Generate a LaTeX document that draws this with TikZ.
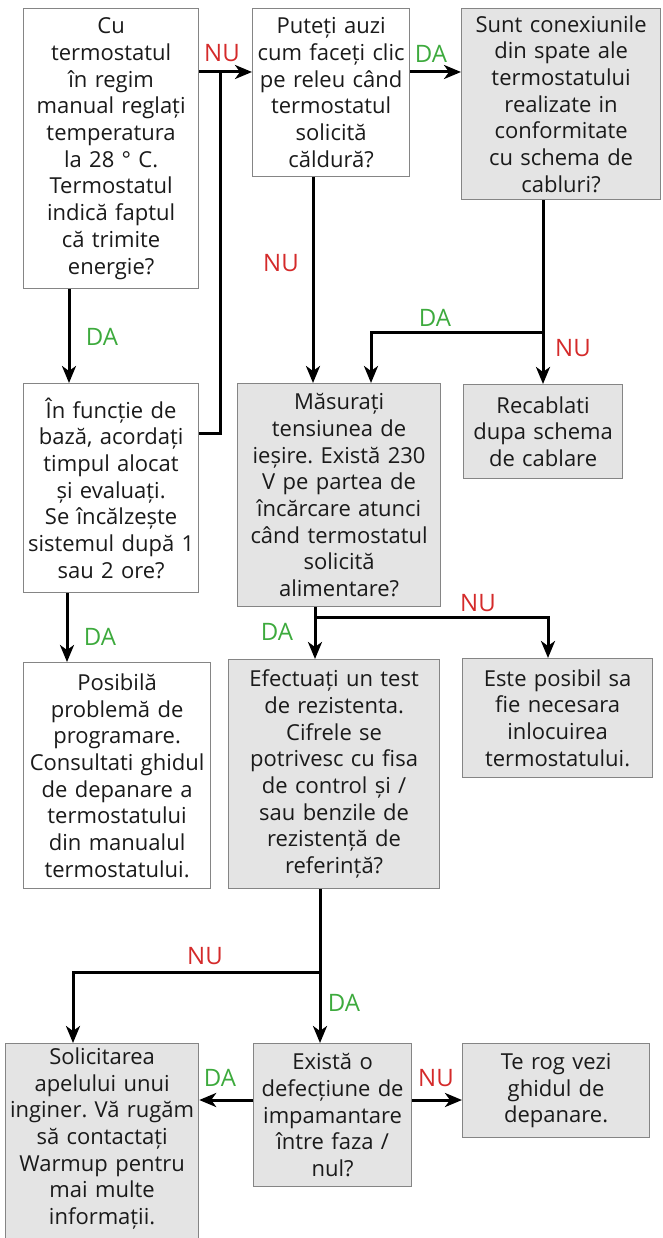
\documentclass[tikz,border=0pt]{standalone}
\usepackage{fontspec}
\setmainfont{Open Sans}
\usetikzlibrary{arrows.meta}
\definecolor{boxgray}{HTML}{E4E4E4}
\definecolor{edgegray}{HTML}{858585}
\definecolor{nured}{HTML}{D42A2A}
\definecolor{dagreen}{HTML}{3DAA3D}
\definecolor{txt}{HTML}{1A1A1A}
\frenchspacing
\begin{document}
\begin{tikzpicture}[x=1pt,y=-1pt,
  box/.style={draw=edgegray, line width=1.2pt, inner sep=0pt, align=center,
    text=txt, font=\fontsize{22}{26.7}\selectfont, anchor=north west},
  wbox/.style={box, fill=white},
  gbox/.style={box, fill=boxgray},
  sz/.style 2 args={minimum width=#1pt, text width=#1pt, minimum height=#2pt},
  conn/.style={line width=3pt, line join=miter},
  arr/.style={conn, -{Stealth[length=17pt,width=14pt,inset=5pt]}},
  nulab/.style={text=nured, font=\fontsize{24}{24}\selectfont, inner sep=0pt},
  dalab/.style={text=dagreen, font=\fontsize{24}{24}\selectfont, inner sep=0pt}]
\useasboundingbox (0,0) rectangle (662,1238);
\clip (0,0) rectangle (662,1238);

% boxes
\node[wbox, sz={175}{280}] (b1) at (23,8) {Cu\\termostatul\\în regim\\manual reglați\\temperatura\\la 28 ° C.\\Termostatul\\indică faptul\\că trimite\\energie?};
\node[wbox, sz={157}{168}] (b2) at (252,8) {Puteți auzi\\cum faceți clic\\pe releu când\\termostatul\\solicită\\căldură?};
\node[gbox, sz={199}{191}] (b3) at (461,8) {Sunt conexiunile\\din spate ale\\termostatului\\realizate in\\conformitate\\cu schema de\\cabluri?};
\node[wbox, sz={175}{209}] (b4) at (23,383) {În funcție de\\bază, acordați\\timpul alocat\\și evaluați.\\Se încălzește\\sistemul după 1\\sau 2 ore?};
\node[gbox, sz={203}{223}] (b5) at (237,383) {Măsurați\\tensiunea de\\ieșire. Există 230\\V pe partea de\\încărcare atunci\\când termostatul\\solicită\\alimentare?};
\node[gbox, sz={159}{94}] (b6) at (463,384) {Recablati\\dupa schema\\de cablare};
\node[wbox, sz={187}{226}] (b7) at (23,662) {Posibilă\\problemă de\\programare.\\Consultati ghidul\\de depanare a\\termostatului\\din manualul\\termostatului.};
\node[gbox, sz={211}{229}] (b8) at (228,659) {Efectuați un test\\de rezistenta.\\Cifrele se\\potrivesc cu fisa\\de control și /\\sau benzile de\\rezistență de\\referință?};
\node[gbox, sz={190}{119}] (b9) at (462,658) {Este posibil sa\\fie necesara\\inlocuirea\\termostatului.};
\node[gbox, sz={193}{250}] (b10) at (5,1043) {Solicitarea\\apelului unui\\inginer. Vă rugăm\\să contactați\\Warmup pentru\\mai multe\\informații.\par\vspace*{60pt}};
\node[gbox, sz={158}{143}] (b11) at (253,1043) {Există o\\defecțiune de\\impamantare\\între faza /\\nul?};
\node[gbox, sz={187}{94}] (b12) at (462,1043) {Te rog vezi\\ghidul de\\depanare.};

% junctions
\coordinate (j1) at (220,72);
\coordinate (j2) at (543,332);
\coordinate (j3) at (315,617);
\coordinate (j4) at (320,972);

% connectors
\draw[arr] ([yshift=-64pt]b1.north east) -- ([yshift=-64pt]b2.north west);
\draw[conn] ([yshift=-50pt]b4.north east) -| (j1);
\draw[arr] ([xshift=46pt]b1.south west) -- ([xshift=46pt]b4.north west);
\draw[arr] ([xshift=44pt]b4.south west) -- ([xshift=44pt]b7.north west);
\draw[arr] ([xshift=61pt]b2.south west) -- ([xshift=76pt]b5.north west);
\draw[arr] ([yshift=-64pt]b2.north east) -- ([yshift=-64pt]b3.north west);
\draw[arr] ([xshift=82pt]b3.south west) -- ([xshift=80pt]b6.north west);
\draw[arr] (j2) -| ([xshift=134pt]b5.north west);
\draw[arr] ([xshift=78pt]b5.south west) -- ([xshift=87pt]b8.north west);
\draw[arr] (j3) -| ([xshift=86pt]b9.north west);
\draw[arr] ([xshift=92pt]b8.south west) -- ([xshift=67pt]b11.north west);
\draw[arr] (j4) -| ([xshift=68pt]b10.north west);
\draw[arr] ([yshift=-57pt]b11.north west) -- ([yshift=-57pt]b10.north east);
\draw[arr] ([yshift=-57pt]b11.north east) -- ([yshift=-57pt]b12.north west);

% labels
\node[nulab] (l1) at (222,53) {NU};
\node[nulab] (l2) at (281,263) {NU};
\node[dalab] (l3) at (102,337) {DA};
\node[dalab] (l4) at (431,54) {DA};
\node[dalab] (l5) at (435,318) {DA};
\node[nulab] (l6) at (573,348) {NU};
\node[dalab] (l7) at (277,632) {DA};
\node[nulab] (l8) at (478,603) {NU};
\node[dalab] (l9) at (100,637) {DA};
\node[nulab] (l10) at (205,956) {NU};
\node[dalab] (l11) at (344,1003) {DA};
\node[dalab] (l12) at (220,1078) {DA};
\node[nulab] (l13) at (436,1078) {NU};
\end{tikzpicture}
\end{document}
